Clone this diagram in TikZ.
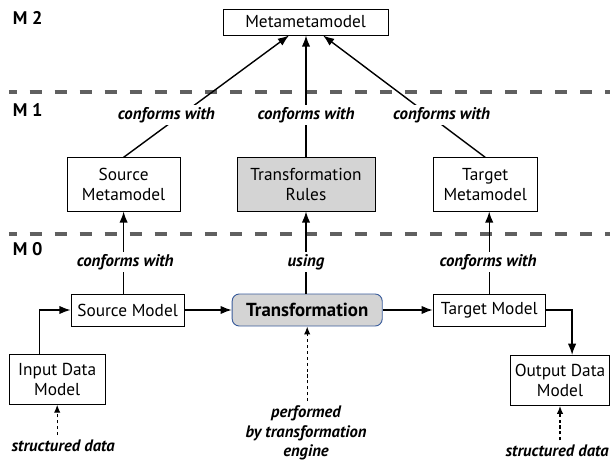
\documentclass[tikz,border=0pt]{standalone}
\usepackage{fontspec}
\setmainfont{PT Sans}
\usetikzlibrary{arrows.meta,positioning,calc}
\definecolor{bx}{RGB}{212,212,212}
\definecolor{tb}{RGB}{58,92,155}
\definecolor{sepgray}{RGB}{96,96,96}

\begin{document}
\begin{tikzpicture}[
    blk/.style={rectangle,draw,line width=0.65pt,minimum height=0.8cm,align=center,font=\fontsize{12.3}{14.2}\selectfont,fill=#1},
    blk/.default=white,
    arr/.style={-{Latex[length=2.8mm,width=2.1mm]},line width=1pt},
    darr/.style={-{Latex[length=2mm,width=1.6mm]},line width=0.9pt,dash pattern=on 2.2pt off 2pt},
    lbl/.style={font=\fontsize{12}{14}\selectfont\bfseries\itshape,fill=white,inner sep=1.5pt},
    note/.style={font=\fontsize{11.8}{13.8}\selectfont\bfseries\itshape,align=center},
    lvl/.style={font=\fontsize{13}{15}\selectfont\bfseries,anchor=west},
    sepline/.style={draw=sepgray,line width=2.2pt,dash pattern=on 8.5pt off 9.3pt,dash phase=3pt},
]
\useasboundingbox (0,0) rectangle (15.25,-11.55);

% Level labels and separators
\node[lvl] (m2) at (0.2,-0.45) {M 2};
\node[lvl] (m1) at (0.2,-2.75) {M 1};
\node[lvl] (m0) at (0.2,-6.22) {M 0};
\draw[sepline] (0.22,-2.3) -- (15.25,-2.3);
\draw[sepline] (0.22,-5.85) -- (15.25,-5.85);

% M2
\node[blk,minimum width=4.125cm,minimum height=0.65cm] (mmm) at (7.64,-0.55) {Metametamodel};

% M1
\node[blk,minimum width=2.83cm,minimum height=1.33cm] (smm) at (3.09,-4.61) {Source\\Metamodel};
\node[blk=bx,minimum width=3.45cm,minimum height=1.33cm] (rules) at (7.65,-4.61) {Transformation\\Rules};
\node[blk,minimum width=2.6cm,minimum height=1.33cm] (tmm) at (12.13,-4.61) {Target\\Metamodel};

% M0
\node[blk,minimum width=2.83cm] (sm) at (3.19,-7.75) {Source Model};
\node[blk=bx,draw=tb,rounded corners=5pt,minimum width=3.75cm,font=\fontsize{13.4}{15}\selectfont\bfseries] (trans) at (7.68,-7.75) {Transformation};
\node[blk,minimum width=2.8cm] (tm) at (12.23,-7.75) {Target Model};
\node[blk,minimum width=2.4cm,minimum height=1.25cm] (inp) at (1.43,-9.48) {Input Data\\Model};
\node[blk,minimum width=2.45cm,minimum height=1.25cm] (outp) at (14.0,-9.51) {Output Data\\Model};
\node[note] (sd1) at (1.58,-11.15) {structured data};
\node[note] (sd2) at (13.93,-11.28) {structured data};
\node[note] (eng) at (7.65,-10.83) {performed\\by transformation\\engine};

% Connections
\coordinate (mmL) at ($(mmm.south west)!0.4!(mmm.south east)$);
\coordinate (mmR) at ($(mmm.south west)!0.605!(mmm.south east)$);
\draw[arr] (smm.north) -- (mmL);
\draw[arr] (rules.north) -- (rules.north |- mmm.south);
\draw[arr] (tmm.north) -- (mmR);
\draw[arr] (smm.south |- sm.north) -- (smm.south);
\draw[arr] (rules.south |- trans.north) -- (rules.south);
\draw[arr] (tm.north) -- (tm.north |- tmm.south);
\draw[arr] (sm) -- (trans);
\draw[arr] (trans) -- (tm);
\draw[arr] ($(inp.north west)!0.32!(inp.north east)$) |- (sm.west);
\draw[arr] (tm.east) -| ($(outp.north west)!0.62!(outp.north east)$);
\draw[darr] (sd1.north -| inp.south) -- (inp.south);
\draw[darr] (sd2.north -| outp.south) -- (outp.south);
\draw[darr] (eng.north -| trans.south) -- (trans.south);

% Edge labels
\node[lbl] (c1) at (4.16,-2.87) {conforms with};
\node[lbl] (c2) at (7.65,-2.87) {conforms with};
\node[lbl] (c3) at (11.04,-2.87) {conforms with};
\node[lbl] (c4) at (3.13,-6.55) {conforms with};
\node[lbl] (c5) at (7.65,-6.55) {using};
\node[lbl] (c6) at (12.2,-6.55) {conforms with};
\end{tikzpicture}
\end{document}
